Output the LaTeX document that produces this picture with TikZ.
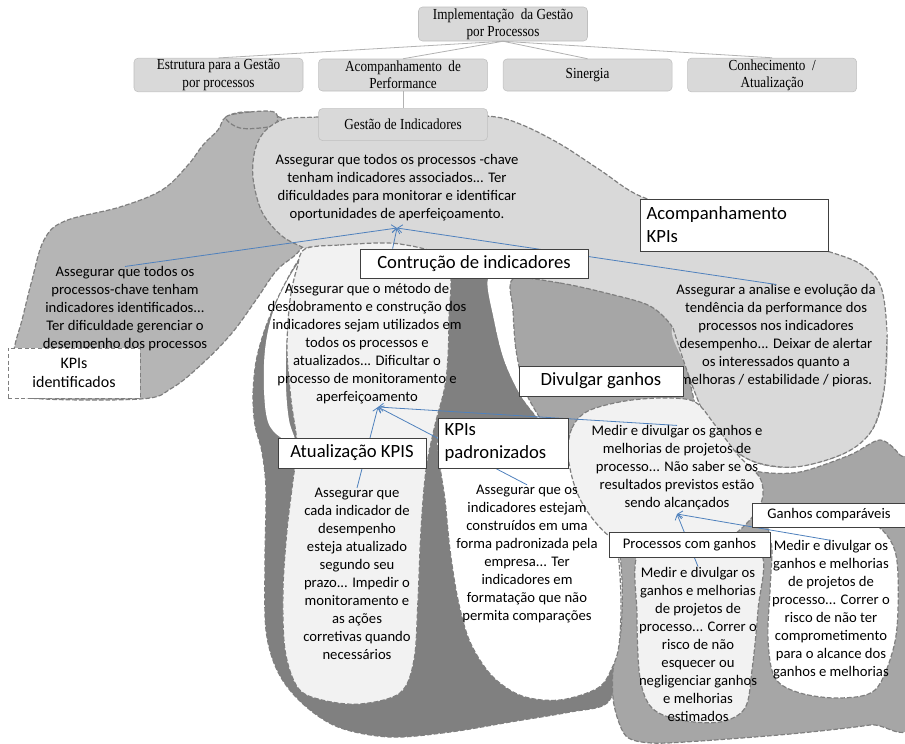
\documentclass[tikz,border=0pt]{standalone}
\usepackage{fontspec}
\setmainfont{Carlito}
\newfontfamily\orgfont[FakeStretch=0.86]{Liberation Serif}
\usepackage{tikz}
\usetikzlibrary{positioning,arrows.meta}

\definecolor{orgfill}{HTML}{D9D9D9}
\definecolor{orgedge}{HTML}{BFBFBF}
\definecolor{lightzone}{HTML}{D9D9D9}
\definecolor{leftzone}{HTML}{B5B5B5}
\definecolor{midzone}{HTML}{A6A6A6}
\definecolor{darkzone}{HTML}{808080}
\definecolor{palezone}{HTML}{F2F2F2}
\definecolor{zoneedge}{HTML}{7F7F7F}
\definecolor{linkblue}{HTML}{4F81BD}

\tikzset{
  orgbox/.style={draw=orgedge,fill=orgfill,rounded corners=3pt,minimum width=126.75pt,minimum height=24pt,align=center,inner sep=1pt,font=\orgfont\fontsize{11.5}{13}\selectfont},
  orgline/.style={draw=gray!60,line width=0.6pt},
  zone/.style={draw=zoneedge,line width=0.9pt,dash pattern=on 3.5pt off 1.5pt},
  tag/.style={draw=black!75,fill=white,line width=0.6pt,inner xsep=5pt,inner ysep=2pt,align=left,font=\fontsize{14}{17.25}\selectfont},
  smalltag/.style={tag,font=\fontsize{11}{13.5}\selectfont},
  note/.style={inner sep=0pt,align=center,font=\fontsize{11}{13.5}\selectfont},
  link/.style={draw=linkblue,line width=0.6pt,-{Straight Barb[length=3.5pt,width=6pt]}}
}

\begin{document}
\begin{tikzpicture}[x=0.75pt,y=-0.75pt,node distance=11.25pt]
\useasboundingbox (0,0) rectangle (905,743);

% zones
\path[zone,fill=leftzone] plot[smooth cycle,tension=0.6] coordinates {(248,112) (226,117) (218,130) (203,145) (188,165) (162,190) (120,207) (65,221) (44,240) (32,280) (22,320) (14,350) (12,385) (30,398) (140,399) (172,388) (203,363) (232,333) (256,300) (277,270) (300,250) (320,215) (300,150) (285,120)};
\path[zone,fill=leftzone] plot[smooth cycle,tension=0.6] coordinates {(226,117) (250,112) (274,112) (277,122) (268,127) (240,128)};
\path[zone,fill=lightzone] plot[smooth cycle,tension=0.55] coordinates {(285,119) (318,117) (400,113) (487,116) (520,124) (560,144) (600,170) (640,196) (700,214) (770,236) (830,252) (862,265) (881,287) (887,335) (884,390) (872,430) (840,455) (790,467) (750,460) (715,432) (692,385) (672,340) (630,310) (560,290) (480,280) (420,272) (330,262) (306,249) (282,236) (262,212) (253,178) (255,150) (265,131)};
\path[zone,fill=darkzone] plot[smooth cycle,tension=0.55] coordinates {(310,247) (300,258) (289,276) (276,302) (264,332) (256,362) (253,395) (255,425) (262,452) (266,490) (265,560) (266,630) (278,672) (302,703) (338,727) (390,737) (450,732) (510,722) (570,712) (607,703) (616,670) (620,600) (612,530) (592,485) (566,450) (543,425) (521,396) (504,360) (494,320) (488,279) (447,279) (400,275) (340,262)};
\fill[white] plot[smooth cycle,tension=0.6] coordinates {(300,262) (292,292) (287,335) (286,385) (289,420) (295,442) (280,437) (268,422) (264,390) (265,350) (272,315) (285,285)};
\fill[white] plot[smooth cycle,tension=0.5] coordinates {(488,279) (513,279) (515,320) (523,360) (536,393) (553,418) (566,440) (545,425) (521,396) (504,360) (494,320)};
\path[zone,fill=midzone] plot[smooth cycle,tension=0.5] coordinates {(513,279) (560,283) (610,294) (650,306) (673,328) (685,362) (694,400) (704,440) (725,462) (760,472) (800,472) (850,455) (880,440) (900,455) (915,480) (915,715) (870,725) (790,734) (700,741) (652,743) (626,736) (614,705) (613,670) (621,630) (622,580) (617,540) (600,500) (580,468) (560,444) (540,418) (525,390) (516,350) (513,310)};
\fill[lightzone] plot[smooth cycle,tension=0.55] coordinates {(672,328) (700,300) (760,285) (830,262) (870,275) (887,335) (884,390) (872,430) (845,453) (795,467) (750,460) (715,432) (700,405) (685,365)};
\draw[zone] plot[smooth,tension=0.55] coordinates {(673,328) (685,365) (700,405) (715,432) (750,460) (795,467) (845,453) (872,430) (884,390) (887,335)};
\path[zone,fill=palezone] plot[smooth cycle,tension=0.55] coordinates {(305,249) (340,245) (400,244) (447,262) (449,320) (446,380) (435,425) (426,470) (421,530) (418,600) (414,660) (400,693) (360,704) (322,700) (298,688) (285,650) (283,590) (287,530) (293,480) (297,445) (291,400) (287,350) (290,300) (297,268)};
\path[zone,fill=white] plot[smooth cycle,tension=0.55] coordinates {(440,432) (480,426) (525,432) (560,448) (587,472) (605,505) (617,545) (621,600) (619,645) (612,668) (598,688) (560,700) (522,696) (492,676) (470,642) (458,600) (450,550) (445,500) (440,465)};
\path[zone,fill=palezone] plot[smooth cycle,tension=0.55] coordinates {(568,455) (572,428) (588,411) (625,401) (665,398) (695,402) (715,425) (738,455) (760,478) (762,500) (748,522) (725,540) (690,548) (650,550) (615,540) (592,518) (576,490)};
\path[zone,fill=white] plot[smooth cycle,tension=0.55] coordinates {(770,525) (800,512) (850,515) (880,528) (896,555) (898,610) (893,650) (875,690) (840,698) (800,693) (775,678) (768,640) (770,590) (772,550)};
\path[zone,fill=palezone] plot[smooth cycle,tension=0.55] coordinates {(640,550) (700,548) (760,552) (758,610) (752,670) (745,708) (720,722) (680,720) (652,708) (640,678) (637,615)};

% org chart
\node[orgbox,minimum height=25.5pt] (Implementacao) at (503,24) {Implementação\ \ da Gestão\\por Processos};
\node[orgbox] (Estrutura) at (218.5,75) {Estrutura para a Gestão\\por processos};
\node[orgbox,right=of Estrutura] (Acompanhamento) {Acompanhamento\ \ de\\Performance};
\node[orgbox,right=of Acompanhamento] (Sinergia) {Sinergia};
\node[orgbox,right=of Sinergia] (Conhecimento) {Conhecimento\ \ /\\Atualização};
\node[orgbox,below=12.75pt of Acompanhamento] (GestaoInd) {Gestão de Indicadores};
\foreach \child in {Estrutura,Acompanhamento,Sinergia,Conhecimento}
  \draw[orgline] (Implementacao.south) -- (\child.north);
\draw[orgline] (Acompanhamento.south) -- (GestaoInd.north);

% notes
\node[note] (GestaoTxt) at (397,188) {Assegurar que todos os processos -chave\\tenham indicadores associados... Ter\\dificuldades para monitorar e identificar\\oportunidades de aperfeiçoamento.};
\node[note] (IdentTxt) at (125,309) {Assegurar que todos os\\processos-chave tenham\\indicadores identificados...\\Ter dificuldade gerenciar o\\desempenho dos processos};
\node[note] (ConstrTxt) at (367,344) {Assegurar que o método de\\desdobramento e construção dos\\indicadores sejam utilizados em\\todos os processos e\\atualizados... Dificultar o\\processo de monitoramento e\\aperfeiçoamento};
\node[note] (AnaliseTxt) at (776,336) {Assegurar a analise e evolução da\\tendência da performance dos\\processos nos indicadores\\desempenho... Deixar de alertar\\os interessados quanto a\\melhoras / estabilidade / pioras.};
\node[note] (AtualTxt) at (357,574) {Assegurar que\\cada indicador de\\desempenho\\esteja atualizado\\segundo seu\\prazo... Impedir o\\monitoramento e\\as ações\\corretivas quando\\necessários};
\node[note] (PadrTxt) at (527,554) {Assegurar que os\\indicadores estejam\\construídos em uma\\forma padronizada pela\\empresa... Ter\\indicadores em\\formatação que não\\permita comparações};
\node[note] (DivTxt) at (677,468) {Medir e divulgar os ganhos e\\melhorias de projetos de\\processo... Não saber se os\\resultados previstos estão\\sendo alcançados};
\node[note] (ProcTxt) at (698,644) {Medir e divulgar os\\ganhos e melhorias\\de projetos de\\processo... Correr o\\risco de não\\esquecer ou\\negligenciar ganhos\\e melhorias\\estimados};
\node[note] (GanhosTxt) at (831,610) {Medir e divulgar os\\ganhos e melhorias\\de projetos de\\processo... Correr o\\risco de não ter\\comprometimento\\para o alcance dos\\ganhos e melhorias};

% links
\coordinate (TipGestao) at (397,228);
\coordinate (TipConstr) at (378,407);
\coordinate (TipDiv) at (677,514);
\draw[link] (IdentTxt.north) -- (TipGestao);
\draw[link] (AnaliseTxt.north) -- (TipGestao);
\draw[link] (AtualTxt.north) -- (TipConstr);
\draw[link] (PadrTxt.north) -- (TipConstr);
\draw[link] (DivTxt.north) -- (TipConstr);
\draw[link] (ProcTxt.north) -- (TipDiv);
\draw[link] (GanhosTxt.north) -- (TipDiv);

% tags
\node[tag,text width=131pt,minimum height=39pt] (AcompKPIs) at (734,225) {Acompanhamento\\KPIs};
\node[tag,minimum width=171pt,minimum height=21.75pt] (Construcao) at (474,263.5) {Contrução de indicadores};
\node[tag,draw=zoneedge,dash pattern=on 3pt off 2pt,align=center,text width=89pt,minimum height=37.5pt,font=\fontsize{12}{14.5}\selectfont] (KPIsIdent) at (74,373) {KPIs\\identificados};
\node[tag,minimum width=123pt,minimum height=22.5pt] (Divulgar) at (601,381) {Divulgar ganhos};
\node[tag,minimum width=111pt,minimum height=22.5pt] (Atualizacao) at (352,453) {Atualização KPIS};
\node[tag,text width=87.5pt,minimum height=37.5pt] (Padronizados) at (503,443) {KPIs\\padronizados};
\node[smalltag,minimum width=115.5pt,minimum height=18pt] (GanhosComp) at (829,515) {Ganhos comparáveis};
\node[smalltag,minimum width=120.75pt,minimum height=18.75pt] (Processos) at (689.5,544.5) {Processos com ganhos};
\draw[link] ([xshift=24.75pt]Construcao.north west) -- (TipGestao);
\end{tikzpicture}
\end{document}
